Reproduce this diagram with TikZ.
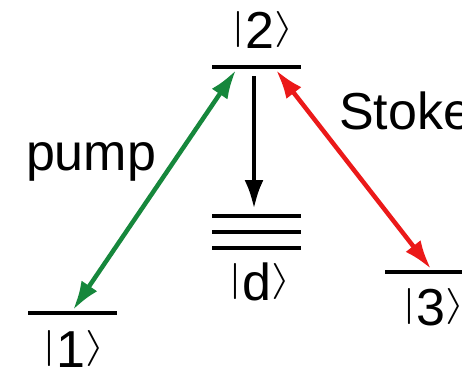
\documentclass[tikz,border=0pt]{standalone}
\usepackage{fontspec}
\setmainfont{Liberation Sans}
\usetikzlibrary{arrows.meta,calc}
\definecolor{pumpgreen}{RGB}{22,135,60}
\definecolor{stokesred}{RGB}{235,25,25}
\newcommand\ketbar{\raisebox{0.18em}{\scalebox{1}[0.72]{$|$}}}
\newcommand\ketang{\raisebox{0.18em}{\scalebox{1}[0.72]{$\rangle$}}}
\newcommand\myket[1]{\ketbar#1\ketang}
\begin{document}
\begin{tikzpicture}[x=0.2pt,y=-0.2pt,
  level/.style={fill=black, inner sep=0pt, minimum height=0.8pt, minimum width=17.8pt},
  lab/.style={inner sep=0pt, anchor=base, font=\fontsize{10.4}{12}\selectfont},
  tr/.style={line width=0.9pt, {Latex[length=5.8pt,width=3.8pt]}-{Latex[length=5.8pt,width=3.8pt]}},
  decay/.style={line width=0.9pt, -{Latex[length=5.8pt,width=3.8pt]}},
]
\useasboundingbox (0,0) rectangle (462,375);
% levels
\node[level] (L2) at (256,67) {};
\node[level] (L1) at (72,313) {};
\node[level] (L3) at (429.5,272) {};
\node[level] (D1) at (256,216) {};
\node[level] (D2) at (256,232) {};
\node[level] (D3) at (256,248) {};
% labels
\node[lab] (k2) at (263,48) {\myket{2}};
\node[lab] (kd) at (260,300) {\myket{d}};
\node[lab] (k3) at (434,325) {\myket{3}};
\node[lab] (k1) at (74,367) {\myket{1}};
\node[lab, anchor=base west] (pump) at (25,170) {pump};
\node[lab, anchor=base west] (stokes) at (338,129) {Stokes};
% transitions
\draw[tr, pumpgreen] ($(L1.north)+(1,0)$) -- ($(L2.south)+(-20,0)$);
\draw[tr, stokesred] ($(L2.south)+(20,0)$) -- ($(L3.north)+(1.5,0)$);
\draw[decay] ($(L2.south)+(-2,6)$) -- ($(D1.north)+(-2,-4)$);
\end{tikzpicture}
\end{document}
